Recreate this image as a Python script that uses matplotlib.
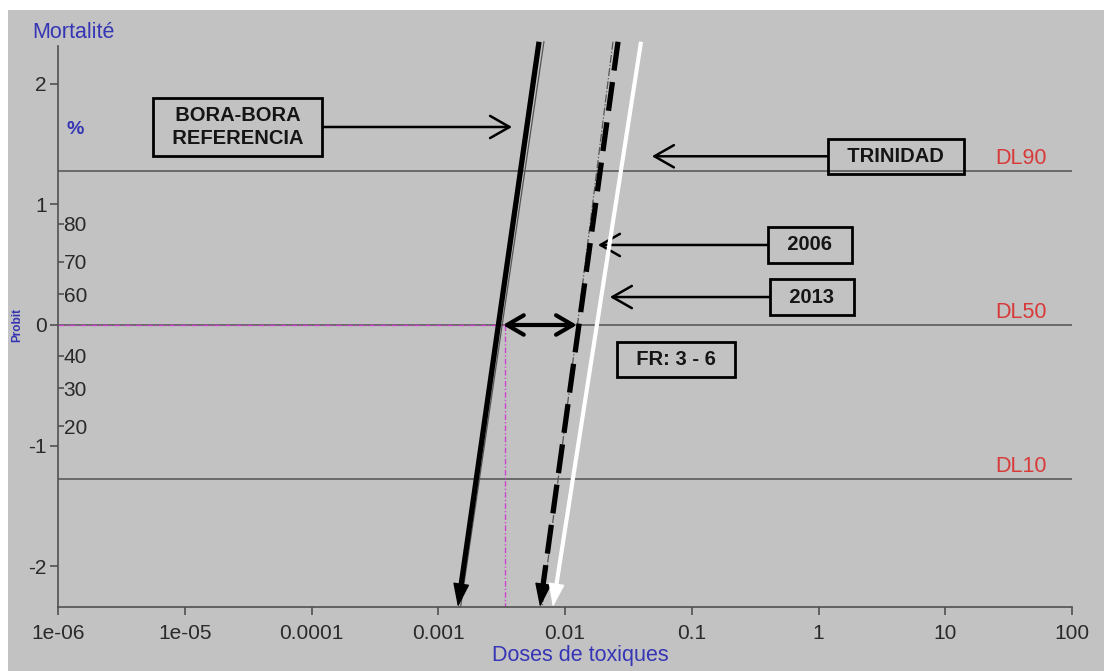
import matplotlib.pyplot as plt
import numpy as np
from statistics import NormalDist
from matplotlib.patches import Rectangle

plt.rcParams['font.family'] = ['Liberation Sans', 'DejaVu Sans']
plt.rcParams['axes.unicode_minus'] = False

# axe des doses (log) et axe probit
x_ticks = [1e-6, 1e-5, 1e-4, 1e-3, 1e-2, 1e-1, 1, 10, 100]
x_labels = ['1e-06', '1e-05', '0.0001', '0.001', '0.01', '0.1', '1', '10', '100']
y_ticks = [-2, -1, 0, 1, 2]
pct_ticks = [20, 30, 40, 60, 70, 80]
dl_levels = [10, 50, 90]

# droites dose-mortalite : dose au probit haut / probit bas
probit_ends = [2.35, -2.34]
bora_dose = [0.00624, 0.00143]
bora_ref_dose = [0.00682, 0.00150]
dose_2006 = [0.0262, 0.00635]
dose_2006_thin = [0.0239, 0.0066]
dose_2013 = [0.0398, 0.00803]

ld50_bora = 0.00337
fr_span = [0.00324, 0.0124]

# etiquettes encadrees
box_texts = ['BORA-BORA\nREFERENCIA', 'TRINIDAD', '2006', '2013']
box_x = [2.6e-5, 4.09, 0.857, 0.889]
box_y = [1.643, 1.40, 0.664, 0.232]
target_x = [0.00382, 0.0485, 0.0182, 0.0226]
fr_text = 'FR: 3 - 6'
fr_pos = (0.0752, -0.29)

blue = '#3535b5'
red = '#d83a3a'
gray_bg = '#c2c2c2'
probit = NormalDist().inv_cdf

fig = plt.figure(figsize=(11.04, 6.71), dpi=100, facecolor='white')
fig.add_artist(Rectangle((8 / 1104, 0), 1, 1 - 10 / 671, transform=fig.transFigure,
                         facecolor=gray_bg, edgecolor='none', zorder=-10))
ax = fig.add_axes([58 / 1104, 1 - 607 / 671, 1014 / 1104, 561 / 671])
ax.set_facecolor('none')
ax.set_xscale('log')
ax.set_xlim(1e-6, 100)
ax.set_ylim(-2.34, 2.315)
for s in ['top', 'right']:
    ax.spines[s].set_visible(False)
for s in ['left', 'bottom']:
    ax.spines[s].set_color('#505050')
    ax.spines[s].set_linewidth(1.2)
ax.set_xticks(x_ticks, x_labels)
ax.minorticks_off()
ax.set_yticks(y_ticks, [str(v) for v in y_ticks])
ax.tick_params(axis='both', labelsize=15, labelcolor='#2a2a2a', color='#505050', width=1.2)
ax.tick_params(axis='x', length=6, pad=6)
ax.tick_params(axis='y', length=6, pad=2)

# niveaux DL
for lvl in dl_levels:
    ax.axhline(probit(lvl / 100), color='#5a5a5a', lw=1.2, zorder=1)
    ax.annotate('DL%d' % lvl, xy=(24.7, probit(lvl / 100)), xytext=(0, 5),
                textcoords='offset points', va='baseline', ha='left', color=red, fontsize=15.5)

# repere DL50 Bora-Bora
ax.plot([1e-6, ld50_bora], [0, 0], color='#cc44cc', lw=1, dashes=(4, 1.5, 1, 1.5), zorder=2)
ax.plot([ld50_bora, ld50_bora], [0, -2.34], color='#cc44cc', lw=1, dashes=(4, 1.5, 1, 1.5), zorder=2)

# lignes fines
ax.plot(bora_ref_dose, probit_ends, color='#555555', lw=0.9, zorder=3, clip_on=False)
ax.plot(dose_2006_thin, probit_ends, color='#555555', lw=0.9, ls='-.', zorder=3, clip_on=False)


def dose_line(doses, color, lw, dashes=None):
    lx = np.log10(doses)
    f = 0.035
    bx = 10 ** (lx[1] + f * (lx[0] - lx[1]))
    by = probit_ends[1] + f * (probit_ends[0] - probit_ends[1])
    kw = dict(color=color, lw=lw, zorder=4, clip_on=False, solid_capstyle='butt')
    if dashes:
        kw['dashes'] = dashes
    ax.plot([doses[0], bx], [probit_ends[0], by], **kw)
    ax.annotate('', xy=(doses[1], probit_ends[1]), xytext=(bx, by),
                arrowprops=dict(arrowstyle='-|>,head_length=0.75,head_width=0.26',
                                mutation_scale=20, color=color, lw=1,
                                shrinkA=0, shrinkB=0), zorder=5, annotation_clip=False)


dose_line(bora_dose, 'black', 3.8)
dose_line(dose_2006, 'black', 3.8, dashes=(5.5, 2.2))
dose_line(dose_2013, 'white', 3.0)

# facteur de resistance
ax.annotate('', xy=(fr_span[1], 0), xytext=(fr_span[0], 0),
            arrowprops=dict(arrowstyle='<->,head_length=0.6,head_width=0.35',
                            mutation_scale=20, color='black', lw=3,
                            shrinkA=0, shrinkB=0), zorder=6)

bbox = dict(boxstyle='square,pad=0.4', fc='none', ec='black', lw=2)
for txt, tx, ty, px in zip(box_texts, box_x, box_y, target_x):
    padded = '\n'.join('  ' + line + '  ' for line in txt.split('\n'))
    ax.annotate(padded, xy=(px, ty), xytext=(tx, ty), ha='center', va='center',
                fontsize=14.5, fontweight='bold', color='#151515', linespacing=1.3,
                bbox=bbox,
                arrowprops=dict(arrowstyle='->,head_length=0.7,head_width=0.4',
                                mutation_scale=20, color='black', lw=1.8,
                                shrinkA=0, shrinkB=0))
ax.text(fr_pos[0], fr_pos[1], '  ' + fr_text + '  ', ha='center', va='center',
        fontsize=14.5, fontweight='bold', color='#151515', bbox=bbox)

# axe secondaire en %
ax2 = ax.twinx()
ax2.set_ylim(ax.get_ylim())
ax2.spines['right'].set_position(('axes', 0))
for s in ax2.spines.values():
    s.set_visible(False)
ax2.set_yticks([probit(p / 100) for p in pct_ticks], [str(p) for p in pct_ticks])
ax2.tick_params(axis='y', length=4, pad=0, labelsize=15, labelcolor='#2a2a2a',
                color='#505050', width=1.2)

ax.set_xlabel('Doses de toxiques', fontsize=15.5, color=blue)
ax.xaxis.set_label_coords(0.515, -0.068)
fig.text(32 / 1104, 1 - 33 / 671, 'Mortalité', fontsize=15.5, color=blue, ha='left', va='center')
fig.text(75 / 1104, 1 - 129 / 671, '%', fontsize=14, color=blue, ha='center', va='center',
         fontweight='bold')
fig.text(17 / 1104, 1 - 325 / 671, 'Probit', fontsize=8.5, color=blue, ha='center', va='center',
         fontweight='bold', rotation=90)

fig.savefig('out.png', dpi=100, facecolor=fig.get_facecolor())
